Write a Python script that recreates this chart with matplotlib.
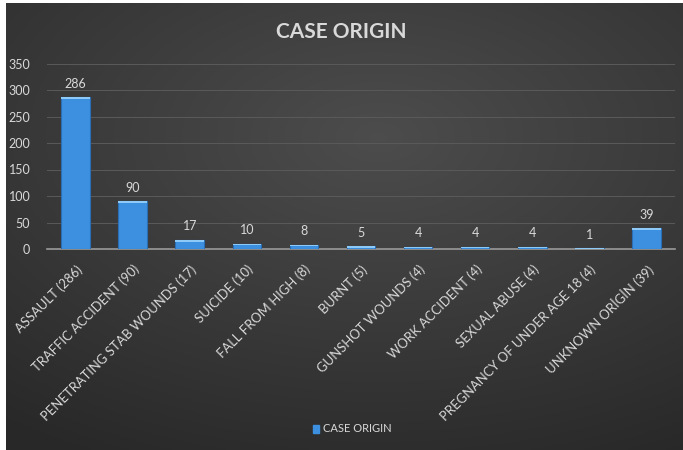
import numpy as np
import matplotlib
matplotlib.use("Agg")
import matplotlib.pyplot as plt

categories = ["ASSAULT (286)", "TRAFFIC ACCIDENT (90)", "PENETRATING STAB WOUNDS (17)",
              "SUICIDE (10)", "FALL FROM HIGH (8)", "BURNT (5)", "GUNSHOT WOUNDS (4)",
              "WORK ACCIDENT (4)", "SEXUAL ABUSE (4)", "PREGNANCY OF UNDER AGE 18 (4)",
              "UNKNOWN ORİGİN (39)"]
values = [286, 90, 17, 10, 8, 5, 4, 4, 4, 1, 39]
yticks = [0, 50, 100, 150, 200, 250, 300, 350]

plt.rcParams['font.family'] = ['Lato', 'DejaVu Sans']
txt = '#d9d9d9'

fig = plt.figure(figsize=(6.83, 4.5), dpi=100)
fig.patch.set_facecolor('white')

# dark radial gradient background
bg = fig.add_axes([6/683, 0, 1 - 6/683, 1 - 3/450])
yy, xx = np.mgrid[0:1:300j, 0:1:450j]
r = np.sqrt(((xx - 0.55) / 0.9) ** 2 + ((yy - 0.3) / 0.8) ** 2)
shade = np.clip(0.30 - 0.14 * r, 0.16, 0.30)
bg.imshow(np.dstack([shade] * 3), aspect='auto', extent=[0, 1, 1, 0])
bg.axis('off')

ax = fig.add_axes([47/683, 1 - 249/450, 628/683, 185.5/450])
ax.patch.set_alpha(0)
x = np.arange(len(values))
ax.bar(x, values, width=0.5, color='#3d8fe0', edgecolor='#2a6fb5', linewidth=0.8, zorder=3)
ax.bar(x, [min(v, 3) for v in values], bottom=[v - min(v, 3) for v in values],
       width=0.5, color='#8ecaf7', linewidth=0, zorder=4)
for xi, v in zip(x, values):
    ax.text(xi, v + 26, str(v), ha='center', va='center', color=txt, fontsize=9)

ax.set_xlim(-0.5, len(values) - 0.5)
ax.set_ylim(0, 350)
ax.set_yticks(yticks)
ax.set_yticklabels([str(t) for t in yticks], color=txt, fontsize=9)
ax.set_xticks(x)
ax.set_xticklabels(categories, rotation=45, ha='right', rotation_mode='anchor',
                   color=txt, fontsize=9.4)
ax.tick_params(axis='y', length=0, pad=12)
ax.tick_params(axis='x', length=0, pad=10)
ax.grid(axis='y', color='#5a5a5a', linewidth=0.7, zorder=0)
for s in ['top', 'right', 'left']:
    ax.spines[s].set_visible(False)
ax.spines['bottom'].set_color('#9a9a9a')
ax.spines['bottom'].set_linewidth(1.2)

fig.text(0.5, 1 - 32/450, "CASE ORIGIN", ha='center', va='center', color=txt,
         fontsize=15, fontweight='bold')

# legend
fig.patches.append(plt.Rectangle((313/683, 1 - 433/450), 6/683, 8/450,
                                 transform=fig.transFigure, color='#3d8fe0'))
fig.text(323/683, 1 - 429/450, "CASE ORIGIN", ha='left', va='center', color=txt, fontsize=8)

fig.savefig("out.png", dpi=100)
